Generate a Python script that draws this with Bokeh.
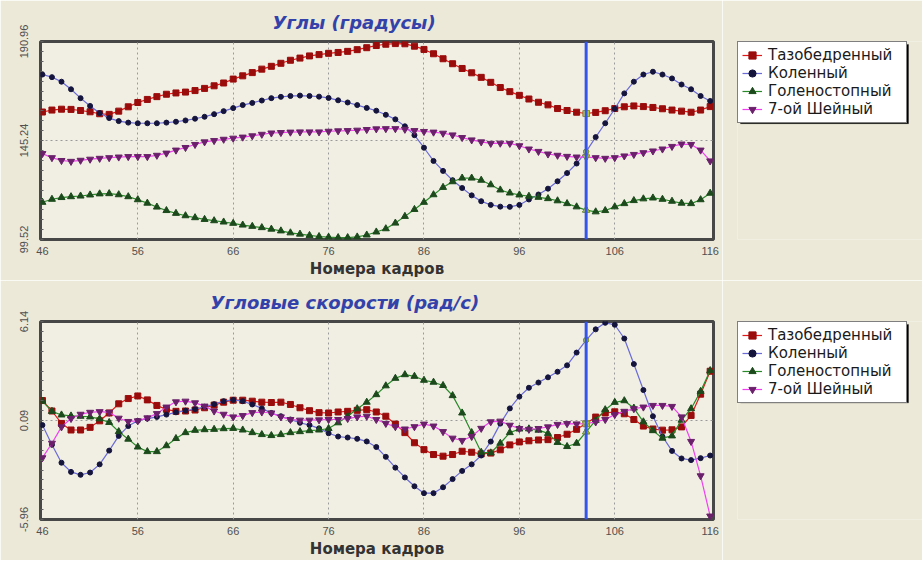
from bokeh.plotting import figure
from bokeh.models import Range1d, FixedTicker, Legend, LegendItem, Span, BoxAnnotation
from bokeh.layouts import column, row
from bokeh.embed import file_html
from bokeh.resources import INLINE

frames = list(range(46, 117))
x_ticks = [46, 56, 66, 76, 86, 96, 106, 116]
angle_ticks = [99.52, 145.24, 190.96]
vel_ticks = [-5.96, 0.09, 6.14]
series_names = ["Тазобедренный", "Коленный", "Голеностопный", "7-ой Шейный"]
cursor_frame = 103
angle_title = "Углы (градусы)"
vel_title = "Угловые скорости (рад/с)"
x_label = "Номера кадров"

angle_hip = [158.4, 159.3, 159.7, 159.6, 159.1, 158.5, 157.6, 157.3, 158.8, 160.8,
             162.8, 164.2, 165.5, 166.6, 167.2, 167.6, 168.3, 169.3, 170.5, 171.8,
             173.6, 175.1, 176.6, 178.2, 179.5, 180.9, 182.3, 183.3, 184.3, 184.9,
             185.5, 185.9, 186.4, 187.2, 188.1, 189.1, 189.7, 190.0, 189.9, 188.8,
             187.3, 185.3, 183.0, 180.7, 178.5, 176.5, 174.4, 172.1, 169.7, 167.8,
             166.1, 164.4, 162.9, 161.7, 160.0, 159.1, 158.3, 157.7, 158.2, 159.0,
             160.0, 160.8, 161.2, 160.9, 160.5, 159.9, 159.3, 158.8, 158.3, 159.3,
             160.9]
angle_knee = [175.7, 174.5, 172.4, 168.9, 164.8, 161.2, 157.9, 155.6, 154.2, 153.5,
              153.2, 153.2, 153.2, 153.5, 153.9, 154.5, 155.3, 156.2, 157.4, 158.8,
              160.2, 161.6, 162.6, 163.7, 164.8, 165.4, 165.8, 166.0, 165.8, 165.5,
              164.9, 163.8, 162.8, 161.6, 160.3, 159.0, 157.1, 155.0, 151.8, 147.7,
              141.9, 135.8, 131.2, 126.9, 123.3, 119.9, 117.2, 115.5, 114.7, 114.6,
              115.5, 118.0, 120.3, 123.0, 126.4, 130.2, 134.6, 140.1, 146.8, 153.2,
              159.9, 167.0, 172.4, 175.7, 177.0, 175.7, 173.9, 171.1, 168.9, 165.8,
              163.5]
angle_ankle = [116.7, 118.1, 118.9, 119.3, 119.6, 120.1, 120.6, 120.7, 120.2, 119.3,
               117.9, 116.3, 114.5, 112.9, 111.6, 110.5, 109.6, 108.8, 108.2, 107.6,
               107.0, 106.2, 105.6, 105.0, 104.3, 103.5, 102.6, 102.0, 101.4, 100.9,
               100.6, 100.4, 100.4, 100.7, 101.6, 103.0, 104.5, 107.1, 110.2, 113.4,
               116.7, 120.2, 123.6, 126.2, 127.9, 127.9, 126.9, 124.8, 122.4, 121.0,
               120.1, 119.5, 119.0, 118.4, 117.4, 116.1, 114.6, 113.1, 112.3, 112.9,
               114.6, 116.1, 117.5, 118.3, 118.7, 118.1, 117.2, 116.3, 116.1, 117.9,
               120.9]
angle_neck = [139.2, 137.3, 136.0, 135.6, 136.1, 136.6, 137.0, 137.3, 137.6, 137.8,
              137.8, 137.8, 138.4, 139.4, 140.8, 142.0, 143.4, 144.6, 145.2, 145.8,
              146.3, 146.8, 147.4, 148.1, 148.7, 148.9, 149.1, 149.2, 149.2, 149.2,
              149.5, 149.7, 149.8, 150.0, 150.3, 150.6, 150.7, 150.7, 150.4, 149.8,
              149.4, 149.1, 148.6, 147.8, 146.6, 145.5, 144.6, 143.9, 144.0, 143.9,
              142.8, 141.3, 140.2, 139.0, 138.4, 137.9, 137.6, 137.6, 137.3, 137.0,
              137.3, 138.1, 138.8, 139.6, 140.4, 141.3, 142.5, 143.6, 143.4, 140.8,
              135.8]

vel_hip = [1.31, 0.67, -0.09, -0.49, -0.49, -0.33, 0.07, 0.55, 1.11, 1.43,
           1.59, 1.35, 1.01, 0.77, 0.65, 0.67, 0.73, 0.87, 1.03, 1.21,
           1.33, 1.33, 1.27, 1.21, 1.19, 1.21, 1.07, 0.87, 0.69, 0.57,
           0.55, 0.61, 0.65, 0.71, 0.75, 0.61, 0.35, -0.13, -0.65, -1.27,
           -1.69, -1.99, -2.09, -1.99, -1.79, -1.85, -1.95, -1.9, -1.7, -1.4,
           -1.22, -1.15, -1.1, -1.08, -0.95, -0.75, -0.45, -0.1, 0.3, 0.55,
           0.62, 0.5, 0.15, -0.25, -0.43, -0.5, -0.48, -0.3, 0.4, 1.7,
           3.1]
vel_knee = [-0.19, -1.39, -2.49, -3.05, -3.23, -3.09, -2.59, -1.75, -0.85, -0.25,
            0.07, 0.21, 0.31, 0.45, 0.59, 0.69, 0.79, 0.93, 1.09, 1.27,
            1.35, 1.27, 1.07, 0.83, 0.55, 0.35, 0.15, -0.05, -0.19, -0.39,
            -0.69, -0.89, -0.95, -1.03, -1.19, -1.53, -2.13, -2.79, -3.39, -3.93,
            -4.35, -4.35, -3.99, -3.49, -2.99, -2.59, -2.05, -1.2, -0.1, 0.83,
            1.55, 2.09, 2.41, 2.73, 3.07, 3.46, 4.24, 5.0, 5.66, 6.06,
            5.94, 5.1, 3.54, 1.95, 0.35, -0.89, -1.77, -2.23, -2.33, -2.21,
            -2.05]
vel_ankle = [1.27, 0.65, 0.43, 0.37, 0.35, 0.31, 0.19, -0.03, -0.59, -1.05,
             -1.53, -1.81, -1.81, -1.45, -1.01, -0.65, -0.51, -0.47, -0.45, -0.41,
             -0.39, -0.49, -0.65, -0.77, -0.83, -0.77, -0.65, -0.59, -0.53, -0.49,
             -0.4, -0.05, 0.35, 0.81, 1.21, 1.67, 2.21, 2.67, 2.89, 2.79,
             2.55, 2.43, 2.23, 1.61, 0.55, -0.65, -1.85, -1.89, -1.3, -0.65,
             -0.43, -0.42, -0.5, -0.7, -1.25, -1.5, -1.3, -0.6, 0.1, 0.75,
             1.2, 1.3, 0.85, 0.01, -0.53, -0.99, -0.85, 0.11, 0.81, 1.87,
             3.14]
vel_neck = [-2.19, -1.3, -0.3, 0.21, 0.47, 0.59, 0.63, 0.59, 0.23, 0.03,
            0.07, 0.25, 0.51, 0.91, 1.23, 1.27, 1.17, 0.97, 0.67, 0.47,
            0.31, 0.39, 0.57, 0.61, 0.55, 0.31, 0.15, 0.11, 0.11, 0.13,
            0.15, 0.15, 0.21, 0.31, 0.35, 0.15, -0.09, -0.29, -0.43, -0.29,
            -0.13, -0.25, -0.59, -0.99, -1.13, -0.89, -0.39, 0.01, 0.05, -0.2,
            -0.4, -0.45, -0.4, -0.3, -0.15, -0.1, -0.12, -0.1, 0.0, 0.15,
            0.45, 0.65, 0.81, 0.91, 1.01, 1.01, 0.95, 0.31, -1.19, -3.29,
            -5.75]

STYLES = [
    dict(line="#E01818", fill="#9A0C0C", marker="square", size=6),
    dict(line="#6A6AD8", fill="#14143C", marker="circle", size=5),
    dict(line="#2A8A2A", fill="#1C4A1C", marker="triangle", size=7),
    dict(line="#F040F0", fill="#6A206A", marker="inverted_triangle", size=7),
]
BG = "#ECE9D8"
PLOT_W = 722
LEG_W = 200
LEG_LEFT = 15


def make_plot(series, y_ticks, title_text, title_offset, height, top, bottom):
    p = figure(width=PLOT_W, height=height,
               x_range=Range1d(45.8, 116.35),
               y_range=Range1d(y_ticks[0], y_ticks[-1]),
               output_backend="svg", toolbar_location=None,
               min_border_left=40, min_border_right=PLOT_W - 713,
               min_border_top=top, min_border_bottom=bottom,
               background_fill_color="#F1EFE3", border_fill_color=BG,
               outline_line_color="#474747", outline_line_width=3)
    p.title.text = title_text
    p.title.text_font = "DejaVu Sans"
    p.title.text_font_style = "bold italic"
    p.title.text_font_size = "18px"
    p.title.text_color = "#3342AA"
    p.title.align = "left"
    p.title.offset = title_offset
    p.title.standoff = 18

    y0, y1 = y_ticks[0], y_ticks[-1]
    p.xaxis.ticker = FixedTicker(ticks=x_ticks)
    p.yaxis.ticker = FixedTicker(ticks=y_ticks,
                                 minor_ticks=[y0 + i * (y1 - y0) / 20 for i in range(21)])
    p.yaxis.major_label_overrides = {v: f"{v:.2f}" for v in y_ticks}
    p.yaxis.major_label_orientation = "vertical"
    for ax in (p.xaxis[0], p.yaxis[0]):
        ax.axis_line_color = None
        ax.major_tick_out = 0
        ax.major_tick_in = 0
        ax.major_label_text_font = "Liberation Sans"
        ax.major_label_text_font_size = "11px"
        ax.major_label_text_color = "#505050"
    p.xaxis.major_label_standoff = 7
    p.yaxis.major_label_standoff = 13
    p.yaxis.minor_tick_in = 3
    p.yaxis.minor_tick_out = 0
    p.yaxis.minor_tick_line_color = "#606060"
    p.xaxis.minor_tick_line_color = None
    p.xaxis.axis_label = x_label
    p.xaxis.axis_label_text_font = "DejaVu Sans"
    p.xaxis.axis_label_text_font_style = "bold"
    p.xaxis.axis_label_text_font_size = "15px"
    p.xaxis.axis_label_text_color = "#333333"
    p.xaxis.axis_label_standoff = 2

    p.xgrid.ticker = FixedTicker(ticks=x_ticks[1:-1])
    p.ygrid.ticker = FixedTicker(ticks=[y_ticks[1]])
    for g in (p.xgrid[0], p.ygrid[0]):
        g.grid_line_color = "#9A9A9A"
        g.grid_line_dash = "2 3"
        g.grid_line_width = 1

    for ys, st in zip(series, STYLES):
        p.line(frames, ys, line_color=st["line"], line_width=1.2)
        p.scatter(frames, ys, marker=st["marker"], size=st["size"],
                  fill_color=st["fill"], line_color=st["fill"])

    cursor = Span(location=cursor_frame, dimension="height", line_color="#3355EE",
                  line_width=3, level="glyph")
    p.add_layout(cursor)
    idx = frames.index(cursor_frame)
    for ys, st in zip(series, STYLES):
        p.scatter([cursor_frame], [ys[idx]], marker=st["marker"], size=st["size"],
                  fill_color="#C8E050", line_color="#8AA020")
    return p


def make_legend_fig(series, height, top, bottom):
    frame_h = height - top - bottom
    frame_w = LEG_W - LEG_LEFT
    q = figure(width=LEG_W, height=height,
               x_range=Range1d(0, frame_w), y_range=Range1d(0, frame_h),
               output_backend="svg", toolbar_location=None,
               min_border_left=LEG_LEFT, min_border_right=0,
               min_border_top=top, min_border_bottom=bottom,
               background_fill_color=BG, border_fill_color=BG,
               outline_line_color=None)
    q.xaxis.visible = False
    q.yaxis.visible = False
    q.grid.visible = False
    # series drawn on a range that lies far outside the view: they only feed the legend glyphs
    q.extra_x_ranges = {"off": Range1d(10000, 20000)}
    items = []
    for name, ys, st in zip(series_names, series, STYLES):
        lr = q.line(frames, ys, line_color=st["line"], line_width=1.2, x_range_name="off")
        sr = q.scatter(frames, ys, marker=st["marker"], size=st["size"] - 1,
                       fill_color=st["fill"], line_color=st["fill"], x_range_name="off")
        items.append(LegendItem(label=name, renderers=[lr, sr]))
    w = 4 + 20 + 6 + 134 + 4
    h = 4 * 18 + 8
    q.add_layout(BoxAnnotation(left=3, right=w + 3,
                               bottom=frame_h - h - 3, top=frame_h - 3,
                               fill_color="black", fill_alpha=1, line_color="black"))
    leg = Legend(items=items, location="top_left",
                 label_text_font="DejaVu Sans", label_text_font_size="15px",
                 label_text_color="#1A1A1A",
                 glyph_width=20, glyph_height=18, label_height=18, label_width=134,
                 label_standoff=6, padding=4, spacing=0, margin=0,
                 background_fill_color="white", background_fill_alpha=1,
                 border_line_color="black", border_line_width=1)
    q.add_layout(leg)
    return q


H1, H2 = 280, 280
angle_series = [angle_hip, angle_knee, angle_ankle, angle_neck]
vel_series = [vel_hip, vel_knee, vel_ankle, vel_neck]
p1 = make_plot(angle_series, angle_ticks, angle_title, 232, H1, 40, 40)
p2 = make_plot(vel_series, vel_ticks, vel_title, 170, H2, 40, 38)
l1 = make_legend_fig(angle_series, H1, 40, 40)
l2 = make_legend_fig(vel_series, H2, 40, 38)

layout = column(row(p1, l1, spacing=0), row(p2, l2, spacing=0), spacing=0)
open("out.html", "w").write(file_html(layout, INLINE))
